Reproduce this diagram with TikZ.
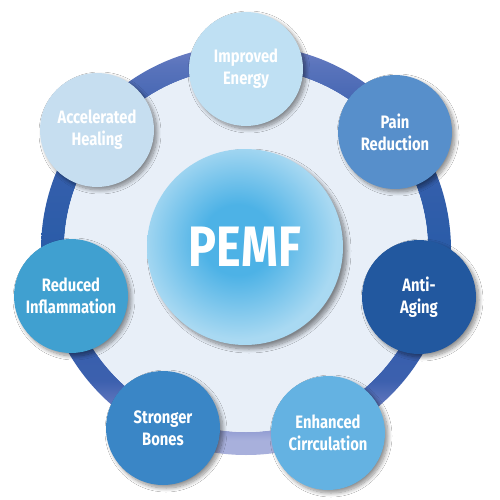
\documentclass[tikz,border=0pt]{standalone}
\usepackage{fontspec}
\setmainfont{Fira Sans}[FakeStretch=0.82]
\usetikzlibrary{shadows.blur}
\definecolor{ringA}{HTML}{A8B0DC}
\definecolor{ringB}{HTML}{7080C4}
\definecolor{ringC}{HTML}{3C60AE}
\definecolor{ringD}{HTML}{2A5CA8}
\definecolor{ringE}{HTML}{5A74BC}
\definecolor{innerdisk}{HTML}{E8EFF8}
\definecolor{pemfin}{HTML}{4DB2E6}
\definecolor{pemfout}{HTML}{A9D9F2}
\definecolor{cEnergy}{HTML}{BFE0F3}
\definecolor{cHealing}{HTML}{C6DEF0}
\definecolor{cPain}{HTML}{578FCB}
\definecolor{cAging}{HTML}{22589F}
\definecolor{cCirc}{HTML}{64B2E2}
\definecolor{cBones}{HTML}{3A86C6}
\definecolor{cInfl}{HTML}{40A0D0}
\pgfdeclareverticalshading{ringshade}{100bp}{color(0bp)=(ringA); color(26.8bp)=(ringA); color(29.9bp)=(ringB); color(34.1bp)=(ringC); color(50bp)=(ringD); color(65.9bp)=(ringC); color(72.6bp)=(ringE); color(75bp)=(ringB); color(100bp)=(ringB)}
\pgfdeclareradialshading{pemfshade}{\pgfpoint{-2bp}{2bp}}{color(0bp)=(pemfin); color(9bp)=(pemfin); color(25bp)=(pemfout); color(100bp)=(pemfout)}
\tikzset{
  sat/.style={circle, minimum size=114pt, inner sep=0pt, fill=#1, align=center,
    text=white, font=\fontsize{18}{22}\selectfont\bfseries,
    blur shadow={shadow xshift=3pt, shadow yshift=-3pt, shadow blur steps=10, shadow opacity=45, shadow blur radius=4pt}},
  hub/.style={circle, minimum size=196pt, inner sep=0pt, shading=pemfshade,
    text=white, font=\fontsize{57}{60}\selectfont\bfseries,
    blur shadow={shadow xshift=4pt, shadow yshift=-4pt, shadow blur steps=10, shadow opacity=45, shadow blur radius=4pt}}
}
\begin{document}
\begin{tikzpicture}[x=1pt,y=-1pt]
\useasboundingbox (0,0) rectangle (500,500);
\fill[white] (0,0) rectangle (500,500);
% ring
\coordinate (rc) at (246,250);
\shade[shading=ringshade, even odd rule] (rc) circle[radius=205] (rc) circle[radius=182];
\fill[innerdisk] (rc) circle[radius=182];
% centre
\node[hub] (pemf) at (245,247) {PEMF};
% satellites
\node[sat=cEnergy]  (energy) at (246,69)  {Improved\\Energy};
\node[sat=cPain]    (pain)   at (395,132) {Pain\\Reduction};
\node[sat=cAging]   (aging)  at (419,297) {Anti-\\Aging};
\node[sat=cCirc]    (circ)   at (328,433) {Enhanced\\Cirrculation};
\node[sat=cBones]   (bones)  at (163,428) {Stronger\\Bones};
\node[sat=cInfl]    (infl)   at (71,296)  {Reduced\\Inflammation};
\node[sat=cHealing] (heal)   at (97,130)  {Accelerated\\Healing};
\end{tikzpicture}
\end{document}
